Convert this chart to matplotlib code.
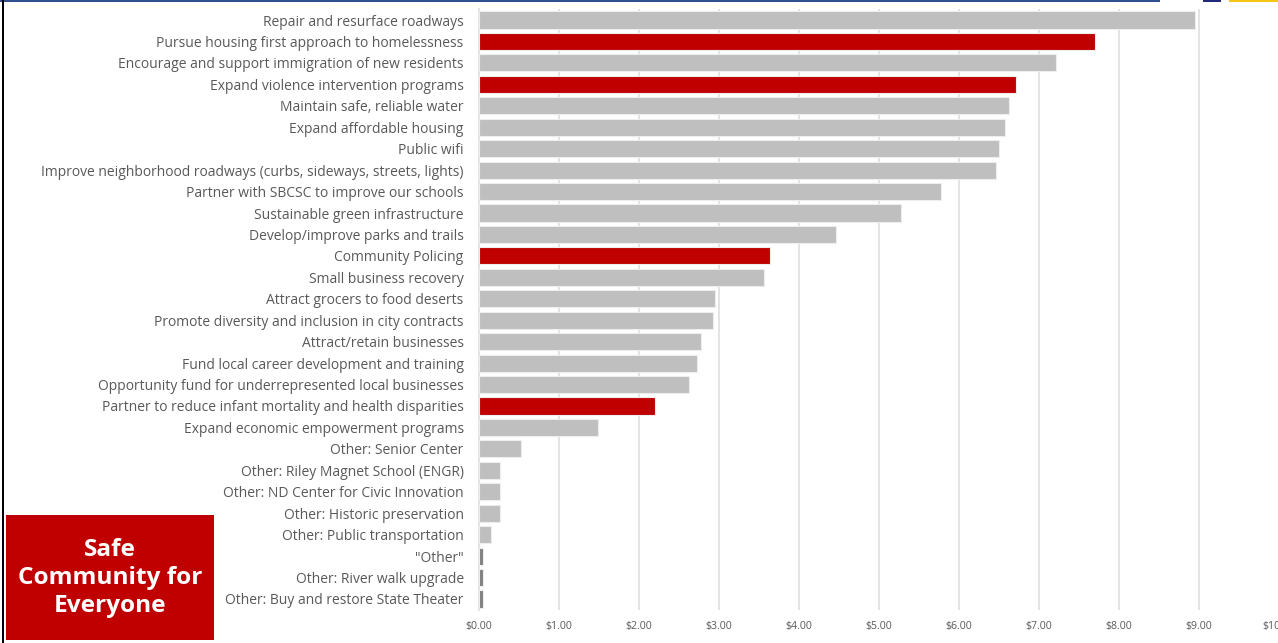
import matplotlib
matplotlib.use('Agg')
import matplotlib.pyplot as plt
from matplotlib.patches import Rectangle
from matplotlib.ticker import FuncFormatter

plt.rcParams['font.family'] = ['Open Sans', 'DejaVu Sans']

# priorities, top to bottom
categories = [
    'Repair and resurface roadways',
    'Pursue housing first approach to homelessness',
    'Encourage and support immigration of new residents',
    'Expand violence intervention programs',
    'Maintain safe, reliable water',
    'Expand affordable housing',
    'Public wifi',
    'Improve neighborhood roadways (curbs, sideways, streets, lights)',
    'Partner with SBCSC to improve our schools',
    'Sustainable green infrastructure',
    'Develop/improve parks and trails',
    'Community Policing',
    'Small business recovery',
    'Attract grocers to food deserts',
    'Promote diversity and inclusion in city contracts',
    'Attract/retain businesses',
    'Fund local career development and training',
    'Opportunity fund for underrepresented local businesses',
    'Partner to reduce infant mortality and health disparities',
    'Expand economic empowerment programs',
    'Other: Senior Center',
    'Other: Riley Magnet School (ENGR)',
    'Other: ND Center for Civic Innovation',
    'Other: Historic preservation',
    'Other: Public transportation',
    '"Other"',
    'Other: River walk upgrade',
    'Other: Buy and restore State Theater',
]
dollars = [8.95, 7.70, 7.21, 6.71, 6.63, 6.58, 6.50, 6.46, 5.77, 5.28,
           4.46, 3.64, 3.56, 2.95, 2.93, 2.78, 2.72, 2.63, 2.20, 1.49,
           0.53, 0.26, 0.26, 0.26, 0.15, 0.05, 0.05, 0.05]
safety_items = ['Pursue housing first approach to homelessness',
                'Expand violence intervention programs',
                'Community Policing',
                'Partner to reduce infant mortality and health disparities']
tiny_items = ['"Other"', 'Other: River walk upgrade',
              'Other: Buy and restore State Theater']
x_ticks = [0, 1, 2, 3, 4, 5, 6, 7, 8, 9, 10]

RED = '#C00000'
GRAY = '#BFBFBF'
DARK_GRAY = '#7F7F7F'
TEXT_GRAY = '#595959'
GRID_GRAY = '#E4E4E4'

colors = []
for c in categories:
    if c in safety_items:
        colors.append(RED)
    elif c in tiny_items:
        colors.append(DARK_GRAY)
    else:
        colors.append(GRAY)

fig = plt.figure(figsize=(12.78, 6.43), dpi=100, facecolor='white')
ax = fig.add_axes([479 / 1278, 1 - 609.7 / 643, 800 / 1278, 600.4 / 643])

ypos = list(range(len(categories)))
ax.barh(ypos, dollars, height=0.8, color=colors, edgecolor='#EDEDED',
        linewidth=0.8, zorder=3)
ax.set_ylim(len(categories) - 0.5, -0.5)
ax.set_xlim(0, 10)

ax.set_yticks(ypos)
ax.set_yticklabels(categories, fontsize=10.0, color=TEXT_GRAY)
ax.set_xticks(x_ticks)
ax.xaxis.set_major_formatter(FuncFormatter(lambda v, p: '${:.2f}'.format(v)))
ax.tick_params(axis='x', labelsize=7.6, labelcolor=TEXT_GRAY, length=0, pad=8)
ax.tick_params(axis='y', length=0, pad=11)

ax.grid(axis='x', color=GRID_GRAY, linewidth=1.4, zorder=0)
ax.set_axisbelow(True)
for side in ['top', 'right', 'bottom']:
    ax.spines[side].set_visible(False)
ax.spines['left'].set_color(GRID_GRAY)
ax.spines['left'].set_linewidth(1.4)

# slide decorations: top rule, logo strip, left border
fig.add_artist(Rectangle((0, 1 - 2 / 643), 1160 / 1278, 2 / 643,
                         transform=fig.transFigure, color='#2F4F8F', lw=0))
fig.add_artist(Rectangle((1203 / 1278, 1 - 2 / 643), 18 / 1278, 2 / 643,
                         transform=fig.transFigure, color='#1F2A7A', lw=0))
fig.add_artist(Rectangle((1229 / 1278, 1 - 2 / 643), 49 / 1278, 2 / 643,
                         transform=fig.transFigure, color='#F5C518', lw=0))
fig.add_artist(Rectangle((1.5 / 1278, 0), 2.5 / 1278, 1,
                         transform=fig.transFigure, color='black', lw=0))

# category callout box
fig.add_artist(Rectangle((6 / 1278, 3 / 643), 208 / 1278, 125 / 643,
                         transform=fig.transFigure, color=RED, lw=0))
fig.text(110 / 1278, 1 - 578 / 643, 'Safe\nCommunity for\nEveryone',
         color='white', fontsize=17.6, fontweight='bold', ha='center',
         va='center', linespacing=1.22)

fig.savefig('out.png', dpi=100, facecolor='white')
